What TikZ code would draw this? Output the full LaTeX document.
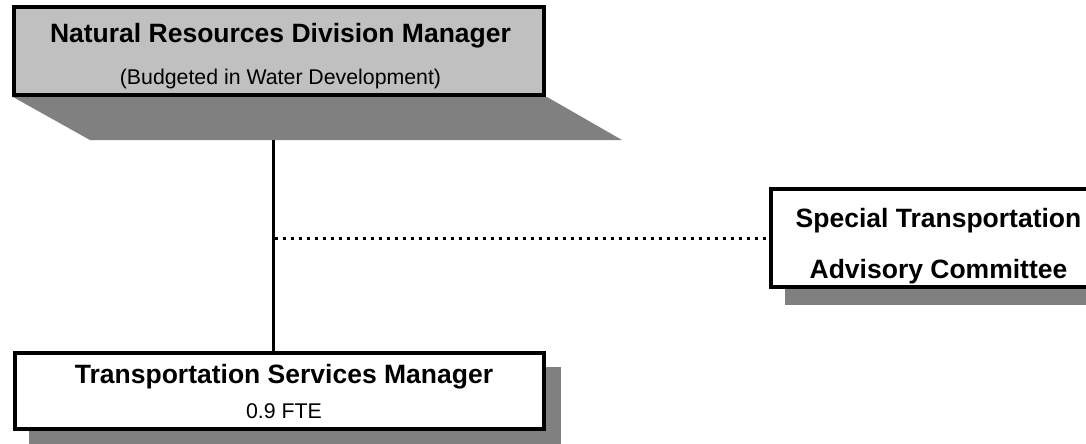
\documentclass[tikz,border=0pt]{standalone}
\usepackage{fontspec}
\setmainfont{Liberation Sans}
\definecolor{boxgray}{HTML}{C0C0C0}
\definecolor{shadowgray}{HTML}{808080}
\begin{document}
\begin{tikzpicture}[x=1pt,y=-1pt,
  orgbox/.style={draw=black,line width=4pt,rectangle,inner sep=0pt},
  shadowfill/.style={fill=shadowgray,draw=none},
  titletext/.style={anchor=base,inner sep=0pt,font=\fontsize{26.5}{30}\selectfont\bfseries},
  subtext/.style={anchor=base,inner sep=0pt,font=\fontsize{21.3}{25}\selectfont},
  link/.style={line width=3pt},
  dotlink/.style={line width=3pt,dash pattern=on 3.3pt off 4.7pt}]
\useasboundingbox (0,0) rectangle (1086,444);
\begin{scope}
\clip (0,0) rectangle (1086,444);
% shadows
\fill[shadowgray] (13,97) -- (547,97) -- (622,140) -- (90,140) -- cycle;
\coordinate (topshadow) at (273.5,140);
\fill[shadowgray] (29,367) rectangle (561,450);
\fill[shadowgray] (785,203) rectangle (1124,305);
% boxes
\node[orgbox,fill=boxgray,minimum width=530pt,minimum height=88pt] (top) at (279,51) {};
\node[orgbox,fill=white,minimum width=529pt,minimum height=76pt] (bot) at (279.5,391) {};
\node[orgbox,fill=white,minimum width=335pt,minimum height=98pt] (stac) at (938.5,238) {};
% texts
\node[titletext] (toptitle) at (280.5,42) {Natural Resources Division Manager};
\node[subtext] (topsub) at (280.5,84) {(Budgeted in Water Development)};
\node[titletext] (bottitle) at (284,383) {Transportation Services Manager};
\node[subtext] (botsub) at (284,418) {0.9 FTE};
\node[titletext] (stac1) at (938.5,227) {Special Transportation};
\node[titletext] (stac2) at (938.5,278) {Advisory Committee};
% connectors
\draw[link] (topshadow) -- (topshadow |- bot.north);
\coordinate (dotstart) at (275,238);
\draw[dotlink] (dotstart) -- (stac.west);
\end{scope}
\end{tikzpicture}
\end{document}
